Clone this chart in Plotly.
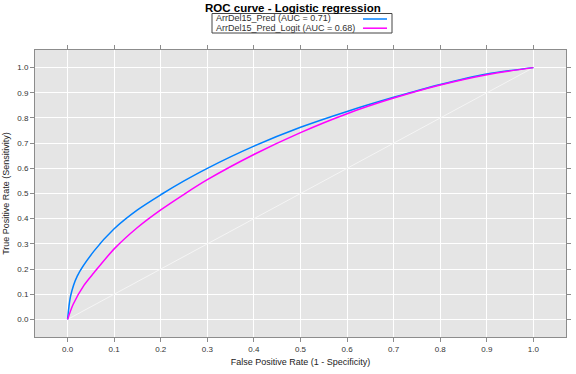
import plotly.graph_objects as go

# Data
series_names = ["ArrDel15_Pred (AUC = 0.71)", "ArrDel15_Pred_Logit (AUC = 0.68)"]
series_colors = ["#0080ff", "#ff00ff"]

pred_fpr = [0.0, 0.0064, 0.0207, 0.0565, 0.1, 0.15, 0.2, 0.25, 0.3, 0.4, 0.5, 0.6, 0.7, 0.8, 0.9, 1.0]
pred_tpr = [0.0, 0.093, 0.172, 0.271, 0.36, 0.435, 0.495, 0.55, 0.60, 0.688, 0.763, 0.826, 0.882, 0.933, 0.975, 1.0]

logit_fpr = [0.0, 0.012, 0.035, 0.0565, 0.1, 0.15, 0.2, 0.25, 0.3, 0.4, 0.5, 0.6, 0.7, 0.8, 0.9, 1.0]
logit_tpr = [0.0, 0.06, 0.135, 0.185, 0.28, 0.365, 0.435, 0.497, 0.555, 0.655, 0.742, 0.817, 0.879, 0.931, 0.972, 1.0]

diag_x = [0.0, 1.0]
diag_y = [0.0, 1.0]

tick_vals = [0.0, 0.1, 0.2, 0.3, 0.4, 0.5, 0.6, 0.7, 0.8, 0.9, 1.0]
tick_text = ["0.0", "0.1", "0.2", "0.3", "0.4", "0.5", "0.6", "0.7", "0.8", "0.9", "1.0"]

title_text = "ROC curve - Logistic regression"
x_title = "False Positive Rate (1 - Specificity)"
y_title = "True Positive Rate (Sensitivity)"

FONT = "Arial, Liberation Sans, sans-serif"

fig = go.Figure()
fig.add_trace(go.Scatter(x=diag_x, y=diag_y, mode="lines",
                         line=dict(color="#f5f5f5", width=1), showlegend=False, hoverinfo="skip"))
fig.add_trace(go.Scatter(x=pred_fpr, y=pred_tpr, mode="lines", name=series_names[0],
                         line=dict(color=series_colors[0], width=1.5, shape="spline", smoothing=0.8),
                         showlegend=False))
fig.add_trace(go.Scatter(x=logit_fpr, y=logit_tpr, mode="lines", name=series_names[1],
                         line=dict(color=series_colors[1], width=1.5, shape="spline", smoothing=0.8),
                         showlegend=False))

axis_common = dict(
    tickvals=tick_vals, ticktext=tick_text, range=[-0.07, 1.07],
    showgrid=True, gridcolor="white", gridwidth=1,
    zeroline=False, showline=True, linecolor="#8c8c8c", linewidth=1,
    mirror="allticks", ticks="outside", ticklen=4, tickcolor="#8c8c8c",
    tickfont=dict(family=FONT, size=8, color="#333333"),
    automargin=False,
)

fig.update_layout(
    width=576, height=374,
    margin=dict(l=35, r=10, t=50, b=37),
    paper_bgcolor="white", plot_bgcolor="#e5e5e5",
    xaxis=dict(**axis_common,
               title=dict(text=x_title, font=dict(family=FONT, size=9, color="#222222"), standoff=6)),
    yaxis=dict(**axis_common,
               title=dict(text=y_title, font=dict(family=FONT, size=9, color="#222222"), standoff=6)),
    font=dict(family=FONT),
)

def px_x(p):
    return (p - 35) / 531

def px_y(p):
    return (337 - p) / 287

# Title
fig.add_annotation(text="<b>" + title_text + "</b>", xref="paper", yref="paper",
                   x=px_x(293), y=px_y(7.5), xanchor="center", yanchor="middle",
                   showarrow=False, font=dict(family=FONT, size=11.5, color="black"))

# Custom legend box (symbols on right, like lattice)
fig.add_shape(type="rect", xref="paper", yref="paper",
              x0=px_x(212), x1=px_x(392), y0=px_y(33), y1=px_y(13.5),
              line=dict(color="#444444", width=1), fillcolor="white")
for i, (nm, col) in enumerate(zip(series_names, series_colors)):
    yc = 18.5 + i * 9.2
    fig.add_annotation(text=nm, xref="paper", yref="paper", x=px_x(214), y=px_y(yc),
                       xanchor="left", yanchor="middle", showarrow=False,
                       font=dict(family=FONT, size=9, color="#333333"))
    fig.add_shape(type="line", xref="paper", yref="paper",
                  x0=px_x(363), x1=px_x(387), y0=px_y(yc + 0.5), y1=px_y(yc + 0.5),
                  line=dict(color=col, width=1.5))

fig.write_html("out.html", config={"displayModeBar": False},
               post_script="document.body.style.margin='0';")
